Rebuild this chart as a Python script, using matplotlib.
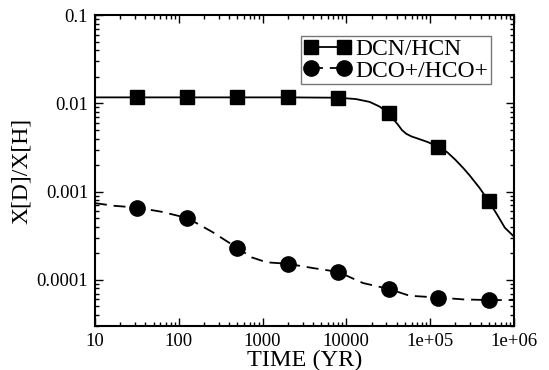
import matplotlib
matplotlib.use("Agg")
import matplotlib.pyplot as plt
from matplotlib.ticker import FixedLocator, FixedFormatter, LogLocator, NullFormatter
from matplotlib.lines import Line2D

plt.rcParams['font.family'] = ['Liberation Serif', 'DejaVu Serif']

# Model curves: deuterium fractionation ratio versus time
dcn_t = [10, 31.6, 126, 500, 2000, 8000, 13000, 19000, 25000, 32000, 41600,
         46000, 52000, 60000, 72000, 95000, 126000, 160000, 200000, 250000,
         296000, 390000, 500000, 630000, 780000, 1e6]
dcn_r = [0.0117, 0.0117, 0.0117, 0.0117, 0.0117, 0.0116, 0.0112, 0.0104,
         0.0092, 0.0077, 0.0057, 0.0050, 0.00452, 0.00422, 0.00398, 0.00363,
         0.0032, 0.0028, 0.0023, 0.00184, 0.00153, 0.0011, 0.00078, 0.00055,
         0.00039, 0.00031]

dco_t = [10, 17, 31.6, 63, 128, 250, 500, 740, 1120, 2000, 4000, 8000,
         15800, 32000, 57000, 126000, 250000, 500000, 1e6]
dco_r = [0.00074, 0.00069, 0.00066, 0.00059, 0.00050, 0.00035, 0.00023,
         0.00018, 0.000158, 0.000152, 0.000136, 0.000123, 0.000092,
         0.000079, 0.000066, 0.000063, 0.000060, 0.000059, 0.000059]

# Symbol positions along each curve
mark_t = [31.6, 126, 500, 2000, 8000, 32000, 126000, 500000]
dcn_mark = [0.0117, 0.0117, 0.0117, 0.0117, 0.0116, 0.0077, 0.0032, 0.00078]
dco_mark = [0.00066, 0.00050, 0.00023, 0.000152, 0.000123, 0.000079, 0.000063, 0.000059]

x_ticks = [10, 100, 1000, 10000, 1e5, 1e6]
x_labels = ["10", "100", "1000", "10000", "1e+05", "1e+06"]
y_ticks = [0.0001, 0.001, 0.01, 0.1]
y_labels = ["0.0001", "0.001", "0.01", "0.1"]

fig = plt.figure(figsize=(5.49, 3.70), dpi=100)
ax = fig.add_axes([0.173, 0.119, 0.763, 0.840])

dash = (6.6, 3.8)
ax.plot(dcn_t, dcn_r, color='black', lw=1.3, solid_joinstyle='round')
ax.plot(mark_t, dcn_mark, ls='none', marker='s', ms=10, color='black')
ax.plot(dco_t, dco_r, color='black', lw=1.3, dashes=dash)
ax.plot(mark_t, dco_mark, ls='none', marker='o', ms=11, color='black')

ax.set_xscale('log')
ax.set_yscale('log')
ax.set_xlim(10, 1e6)
ax.set_ylim(3.0e-5, 0.1)

ax.xaxis.set_major_locator(FixedLocator(x_ticks))
ax.xaxis.set_major_formatter(FixedFormatter(x_labels))
ax.yaxis.set_major_locator(FixedLocator(y_ticks))
ax.yaxis.set_major_formatter(FixedFormatter(y_labels))
for axis in (ax.xaxis, ax.yaxis):
    axis.set_minor_locator(LogLocator(base=10, subs=range(2, 10), numticks=20))
    axis.set_minor_formatter(NullFormatter())

ax.tick_params(which='both', direction='in', top=True, right=True, width=1.0)
ax.tick_params(which='major', length=6, labelsize=13.5, pad=5)
ax.tick_params(which='minor', length=3)
for sp in ax.spines.values():
    sp.set_linewidth(1.5)

ax.set_xlabel("TIME (YR)", fontsize=17.5, labelpad=0)
ax.set_ylabel("X[D]/X[H]", fontsize=17, labelpad=3)

handles = [
    Line2D([], [], color='black', lw=1.3, marker='s', ms=10),
    Line2D([], [], color='black', lw=1.3, dashes=dash, marker='o', ms=11),
]
leg = ax.legend(handles, ["DCN/HCN", "DCO+/HCO+"], loc='upper right',
                bbox_to_anchor=(0.945, 0.932), numpoints=2, fontsize=17,
                frameon=True, fancybox=False, borderpad=0.1, labelspacing=0.0,
                handlelength=2.0, handletextpad=0.2, borderaxespad=0.0)
leg.get_frame().set_edgecolor('#555555')
leg.get_frame().set_linewidth(1.0)

fig.savefig("out.png", dpi=100)
